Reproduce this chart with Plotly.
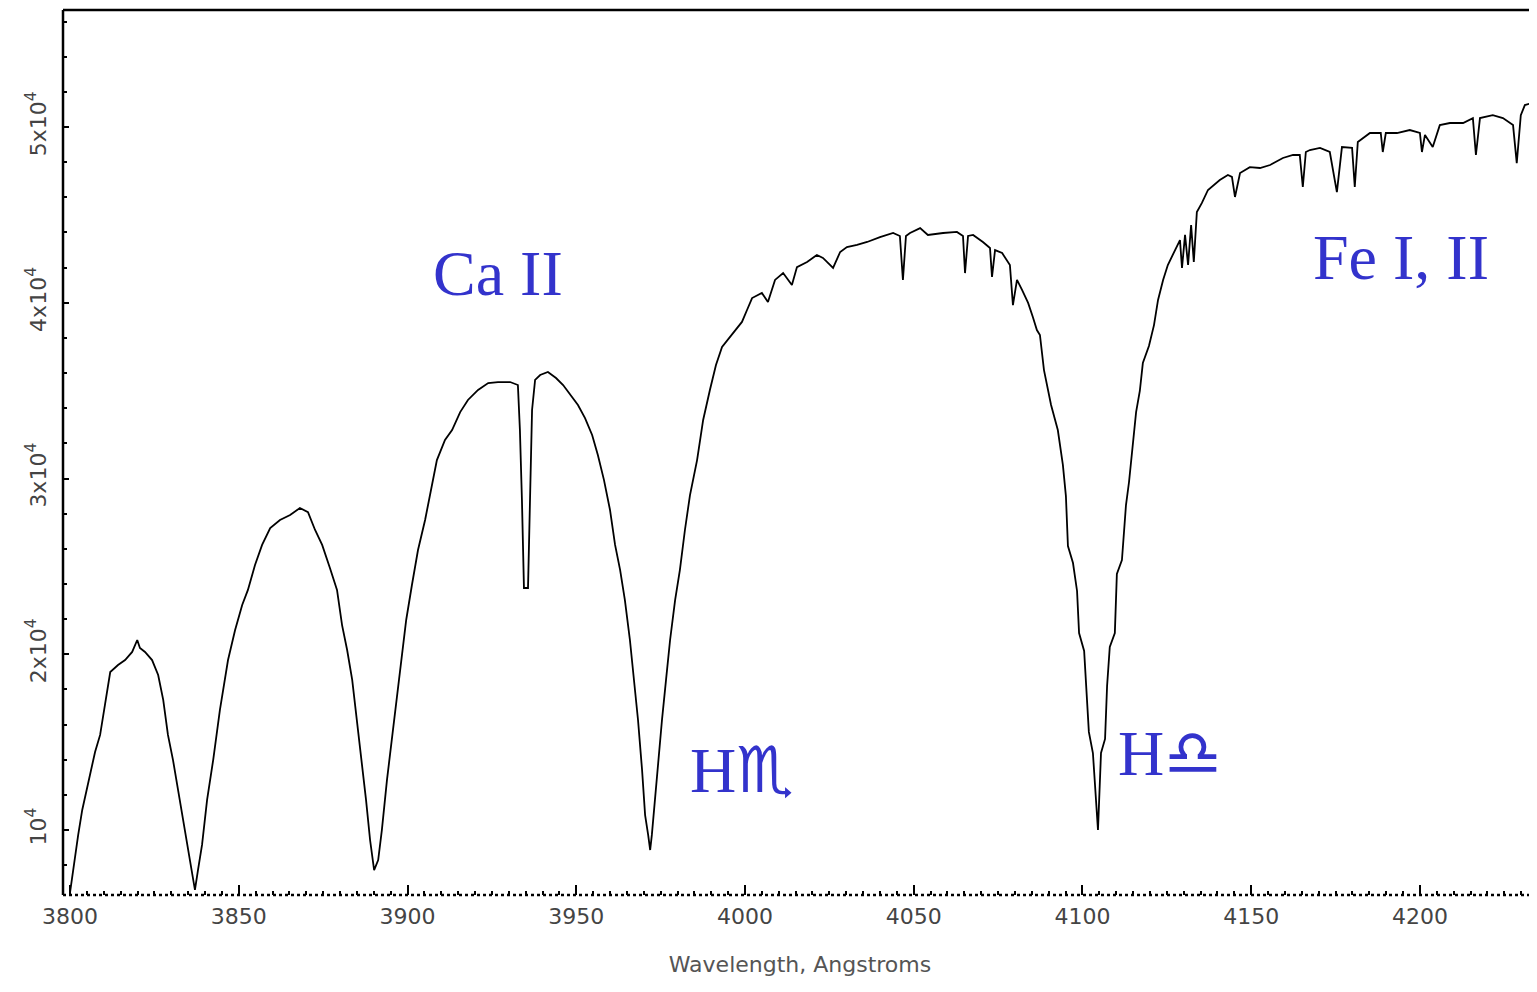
import plotly.graph_objects as go

# spectrum (Angstrom, counts)
wavelength = [
    3800.0, 3801.2, 3802.4, 3803.6, 3805.3, 3807.4, 3808.9, 3810.4, 3811.9, 3814.2,
    3816.3, 3818.4, 3819.9, 3820.7, 3822.2, 3824.3, 3826.1, 3827.6, 3829.0, 3830.5,
    3832.0, 3833.5, 3835.0, 3836.1, 3837.0, 3837.9, 3839.1, 3840.6, 3842.4, 3844.4,
    3846.8, 3848.9, 3851.0, 3852.7, 3854.8, 3856.9, 3859.3, 3862.2, 3865.2, 3868.1,
    3870.5, 3872.6, 3874.7, 3877.0, 3879.1, 3880.6, 3882.1, 3883.6, 3885.0, 3886.5,
    3887.7, 3888.9, 3890.1, 3891.3, 3892.4, 3893.9, 3895.7, 3897.8, 3899.6, 3901.3,
    3903.1, 3905.2, 3906.7, 3908.7, 3911.1, 3913.2, 3915.6, 3917.9, 3920.9, 3923.9,
    3926.8, 3930.4, 3932.7, 3933.3, 3933.9, 3934.5, 3935.7, 3936.3, 3936.9, 3937.8,
    3939.3, 3941.6, 3944.0, 3946.1, 3948.2, 3950.5, 3952.6, 3954.7, 3956.4, 3958.2,
    3960.0, 3961.5, 3963.0, 3964.4, 3965.9, 3967.4, 3968.3, 3969.5, 3970.4, 3971.3,
    3971.9, 3972.4, 3973.3, 3974.2, 3975.4, 3976.6, 3977.8, 3979.3, 3980.7, 3982.2,
    3983.7, 3985.8, 3987.6, 3989.6, 3991.4, 3993.2, 3995.6, 3999.1, 4000.6, 4002.1,
    4005.0, 4006.8, 4008.9, 4011.3, 4013.9, 4015.4, 4018.4, 4021.3, 4023.1, 4026.1,
    4028.2, 4030.2, 4033.2, 4036.2, 4040.0, 4043.9, 4045.9, 4046.8, 4047.7, 4048.9,
    4051.9, 4054.2, 4058.7, 4062.8, 4064.6, 4065.2, 4066.1, 4067.6, 4070.5, 4072.6,
    4073.2, 4074.1, 4076.2, 4078.5, 4079.4, 4080.6, 4082.1, 4083.9, 4085.3, 4086.5,
    4087.4, 4088.6, 4090.7, 4092.7, 4094.2, 4095.1, 4095.7, 4097.2, 4098.4, 4099.0,
    4100.5, 4101.0, 4101.9, 4103.1, 4104.0, 4104.6, 4105.5, 4106.7, 4107.3, 4108.1,
    4109.6, 4110.2, 4111.7, 4112.9, 4113.8, 4115.0, 4115.9, 4117.0, 4117.9, 4119.7,
    4121.2, 4122.4, 4123.9, 4125.3, 4127.4, 4128.9, 4129.5, 4130.4, 4131.3, 4132.2,
    4133.0, 4133.9, 4135.4, 4137.2, 4140.7, 4143.1, 4144.3, 4145.2, 4146.7, 4149.6,
    4152.6, 4155.6, 4159.4, 4162.4, 4164.4, 4165.3, 4166.2, 4167.4, 4170.4, 4173.3,
    4175.4, 4176.9, 4179.9, 4180.7, 4181.6, 4185.2, 4188.4, 4189.0, 4189.9, 4193.2,
    4197.0, 4200.0, 4200.6, 4201.5, 4203.8, 4205.9, 4208.9, 4212.8, 4215.7, 4216.6,
    4217.8, 4221.6, 4224.6, 4227.6, 4228.7, 4229.9, 4231.1, 4233.4, 4234.0,
]
flux = [
    6470, 8180, 9720, 11140, 12560, 14440, 15410, 17110, 18990, 19390,
    19670, 20130, 20810, 20360, 20130, 19670, 18820, 17400, 15410, 13980,
    12280, 10570, 8860, 7440, 6590, 7720, 9150, 11710, 13980, 16830,
    19670, 21380, 22800, 23660, 25080, 26220, 27180, 27640, 27920, 28320,
    28090, 27070, 26220, 24910, 23660, 21660, 20240, 18540, 16260, 13980,
    11710, 9430, 7720, 8290, 10000, 12840, 15690, 19100, 21950, 23940,
    25930, 27640, 29060, 31050, 32190, 32760, 33780, 34470, 35040, 35430,
    35490, 35490, 35320, 32760, 28780, 23770, 23770, 28780, 33900, 35610,
    35890, 36060, 35720, 35320, 34750, 34180, 33440, 32480, 31340, 29920,
    28210, 26220, 24790, 23090, 20810, 17970, 16260, 13410, 10850, 9720,
    8860, 9720, 11710, 13980, 16260, 18540, 20810, 23090, 24790, 27070,
    29060, 31050, 33330, 35040, 36460, 37480, 38050, 38910, 39590, 40270,
    40560, 40040, 41300, 41690, 41010, 42030, 42320, 42720, 42550, 41980,
    42890, 43170, 43290, 43460, 43740, 43970, 43800, 41300, 43800, 43970,
    44250, 43860, 43970, 44030, 43800, 41690, 43800, 43860, 43460, 43120,
    41470, 43000, 42830, 42150, 39870, 41300, 40730, 39990, 39190, 38450,
    38170, 36170, 34180, 32760, 30770, 29000, 26160, 25190, 23600, 21210,
    20190, 18420, 15580, 14380, 11820, 10000, 14380, 15180, 18190, 20410,
    21210, 24570, 25360, 28490, 29800, 32190, 33780, 34980, 36570, 37540,
    38730, 40160, 41300, 42150, 43000, 43570, 41980, 43860, 42150, 44420,
    42320, 45160, 45680, 46420, 46990, 47270, 47160, 46020, 47380, 47720,
    47670, 47840, 48240, 48410, 48410, 46590, 48580, 48690, 48810, 48580,
    46300, 48860, 48810, 46590, 49150, 49660, 49660, 48580, 49660, 49660,
    49830, 49660, 48580, 49550, 48860, 50110, 50230, 50230, 50510, 48410,
    50510, 50680, 50510, 50110, 47950, 50680, 51250, 51370, 46590,
]

# line labels (the H lines show symbol-font glyphs in the original)
sym = "<span style='font-family:DejaVu Serif, DejaVu Sans'>%s\ufe0e</span>"
label_text = ["Ca II", "Fe I, II", "H" + sym % "\u264f", "H" + sym % "\u264e"]
label_x = [3926.8, 4194.4, 3999.1, 4125.9]
label_y = [41690, 42550, 13410, 14380]

ytick_vals = [10000, 20000, 30000, 40000, 50000]
ytick_text = ["10<sup>4</sup>", "2x10<sup>4</sup>", "3x10<sup>4</sup>",
              "4x10<sup>4</sup>", "5x10<sup>4</sup>"]

fig = go.Figure()
fig.add_trace(go.Scatter(x=wavelength, y=flux, mode="lines",
                         line=dict(color="black", width=1.8),
                         showlegend=False, hoverinfo="skip"))

for t, x, y in zip(label_text, label_x, label_y):
    fig.add_annotation(x=x, y=y, text=t, showarrow=False,
                       font=dict(family="Liberation Serif, DejaVu Serif, serif",
                                 size=64, color="#3333cc"))

# frame: solid left and top, dotted bottom
fig.add_shape(type="line", xref="paper", yref="paper", x0=0, x1=0, y0=0, y1=1,
              line=dict(color="black", width=2.5))
fig.add_shape(type="line", xref="paper", yref="paper", x0=0, x1=1, y0=1, y1=1,
              line=dict(color="black", width=2.5))
fig.add_shape(type="line", xref="paper", yref="paper", x0=0, x1=1, y0=0, y1=0,
              line=dict(color="black", width=2.5, dash="dot"))

tick_font = dict(family="DejaVu Sans", size=22, color="#444")

fig.update_xaxes(range=[3797.9, 4234.7], showgrid=False, zeroline=False,
                 showline=False, tickmode="linear", tick0=3800, dtick=50,
                 ticks="inside", ticklen=10, tickwidth=2, tickcolor="black",
                 minor=dict(ticks="inside", dtick=5, tick0=3800, ticklen=4,
                            tickwidth=1.5, tickcolor="black"),
                 tickfont=tick_font, ticklabelstandoff=6,
                 title=dict(text="Wavelength, Angstroms", standoff=28,
                            font=dict(family="DejaVu Sans", size=22, color="#555")))
fig.update_yaxes(range=[6300, 56660], showgrid=False, zeroline=False,
                 showline=False, tickmode="array", tickvals=ytick_vals,
                 ticktext=ytick_text, tickangle=-90,
                 ticks="inside", ticklen=6, tickwidth=2, tickcolor="black",
                 minor=dict(ticks="inside", dtick=2000, tick0=0, ticklen=4,
                            tickwidth=1.5, tickcolor="black"),
                 tickfont=tick_font, ticklabelstandoff=12)

fig.update_layout(width=1529, height=984, plot_bgcolor="white",
                  paper_bgcolor="white",
                  margin=dict(l=55, r=0, t=2, b=97))
fig.write_html("out.html")
